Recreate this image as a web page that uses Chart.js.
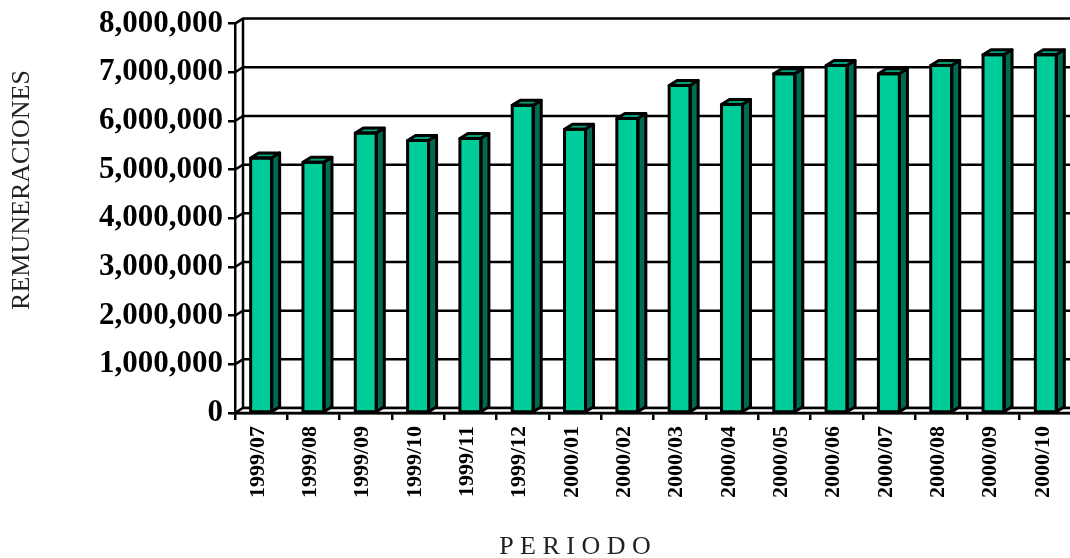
<!DOCTYPE html>
<html>
<head>
<meta charset="utf-8">
<script src="https://cdn.jsdelivr.net/npm/chart.js@4/dist/chart.umd.min.js"></script>
<style>
  html, body { margin: 0; padding: 0; background: #fff; overflow: hidden; }
  #wrap { width: 1080px; height: 558px; }
</style>
</head>
<body>
<div id="wrap"><canvas id="remChart" width="1080" height="558"></canvas></div>
<script>
// datos
const periodos = ['1999/07', '1999/08', '1999/09', '1999/10', '1999/11', '1999/12',
    '2000/01', '2000/02', '2000/03', '2000/04', '2000/05', '2000/06',
    '2000/07', '2000/08', '2000/09', '2000/10'];
const remuneraciones = [5240000, 5150000, 5750000, 5600000, 5640000, 6320000,
    5830000, 6050000, 6730000, 6340000, 6970000, 7140000,
    6970000, 7140000, 7360000, 7360000];
const yMin = 0, yMax = 8000000, yStep = 1000000;

const FRONT = '#00CC99', TOP = '#00A07A', SIDE = '#006B50';
const DX = 8, DY = -5; // profundidad del efecto 3D

const pseudo3d = {
    id: 'pseudo3d',
    beforeDatasetsDraw(chart) {
        const {ctx, chartArea: a, scales: {y}} = chart;
        ctx.save();
        ctx.strokeStyle = '#000';
        ctx.lineWidth = 2.5;
        // lineas de la pared del fondo
        y.ticks.forEach(t => {
            const py = y.getPixelForValue(t.value);
            ctx.beginPath();
            ctx.moveTo(a.left, py);
            ctx.lineTo(a.left + DX, py + DY);
            ctx.lineTo(a.right + DX + 20, py + DY);
            ctx.stroke();
        });
        ctx.beginPath();
        ctx.moveTo(a.left + DX, a.top + DY);
        ctx.lineTo(a.left + DX, a.bottom + DY);
        ctx.stroke();
        // piso
        ctx.fillStyle = '#fff';
        ctx.beginPath();
        ctx.moveTo(a.left, a.bottom);
        ctx.lineTo(a.left + DX, a.bottom + DY);
        ctx.lineTo(a.right + DX + 20, a.bottom + DY);
        ctx.lineTo(a.right + 20, a.bottom);
        ctx.closePath();
        ctx.fill();
        ctx.stroke();
        ctx.restore();
    },
    afterDatasetsDraw(chart) {
        const {ctx} = chart;
        ctx.save();
        ctx.strokeStyle = '#000';
        ctx.lineWidth = 3;
        ctx.lineJoin = 'round';
        chart.getDatasetMeta(0).data.forEach(bar => {
            const {x, y, base, width} = bar.getProps(['x', 'y', 'base', 'width'], true);
            const l = x - width / 2, r = x + width / 2;
            // cara superior
            ctx.fillStyle = TOP;
            ctx.beginPath();
            ctx.moveTo(l, y);
            ctx.lineTo(l + DX, y + DY);
            ctx.lineTo(r + DX, y + DY);
            ctx.lineTo(r, y);
            ctx.closePath();
            ctx.fill();
            ctx.stroke();
            // cara lateral
            ctx.fillStyle = SIDE;
            ctx.beginPath();
            ctx.moveTo(r, y);
            ctx.lineTo(r + DX, y + DY);
            ctx.lineTo(r + DX, base + DY);
            ctx.lineTo(r, base);
            ctx.closePath();
            ctx.fill();
            ctx.stroke();
            // borde frontal
            ctx.strokeRect(l, y, width, base - y);
        });
        ctx.restore();
    },
    afterDraw(chart) {
        const {ctx} = chart;
        ctx.save();
        ctx.fillStyle = '#222';
        ctx.textAlign = 'center';
        ctx.textBaseline = 'middle';
        ctx.font = '26px "Liberation Serif"';
        ctx.translate(22, 190);
        ctx.rotate(-Math.PI / 2);
        ctx.fillText('REMUNERACIONES', 0, 0);
        ctx.restore();
        ctx.save();
        ctx.fillStyle = '#222';
        ctx.textAlign = 'center';
        ctx.textBaseline = 'middle';
        ctx.font = '26px "Liberation Serif"';
        ctx.fillText('P E R I O D O', 575, 547);
        ctx.restore();
    }
};

const remChart = new Chart(document.getElementById('remChart'), {
    type: 'bar',
    data: {
        labels: periodos,
        datasets: [{
            data: remuneraciones,
            backgroundColor: FRONT,
            borderColor: '#000',
            borderWidth: 0,
            barThickness: 21
        }]
    },
    options: {
        responsive: false,
        animation: false,
        devicePixelRatio: 1,
        layout: {padding: {left: 0, top: 23, right: 8, bottom: 0}},
        plugins: {legend: {display: false}, tooltip: {enabled: false}},
        scales: {
            x: {
                grid: {drawOnChartArea: false, color: '#000', lineWidth: 2.5, tickLength: 7},
                border: {display: true, color: '#000', width: 2.5},
                ticks: {
                    color: '#000', minRotation: 90, maxRotation: 90, padding: 6, labelOffset: -3,
                    font: {family: 'Liberation Serif', weight: 'bold', size: 22}
                },
                afterFit: scale => { scale.height = 145; }
            },
            y: {
                min: yMin,
                max: yMax,
                grid: {drawOnChartArea: false, color: '#000', lineWidth: 2.5, tickLength: 7},
                border: {display: true, color: '#000', width: 2.5},
                ticks: {
                    stepSize: yStep, color: '#000', padding: 5,
                    font: {family: 'Liberation Serif', weight: 'bold', size: 31},
                    callback: v => v.toLocaleString('en-US')
                },
                afterFit: scale => { scale.width = 235; }
            }
        }
    },
    plugins: [pseudo3d]
});
</script>
</body>
</html>
